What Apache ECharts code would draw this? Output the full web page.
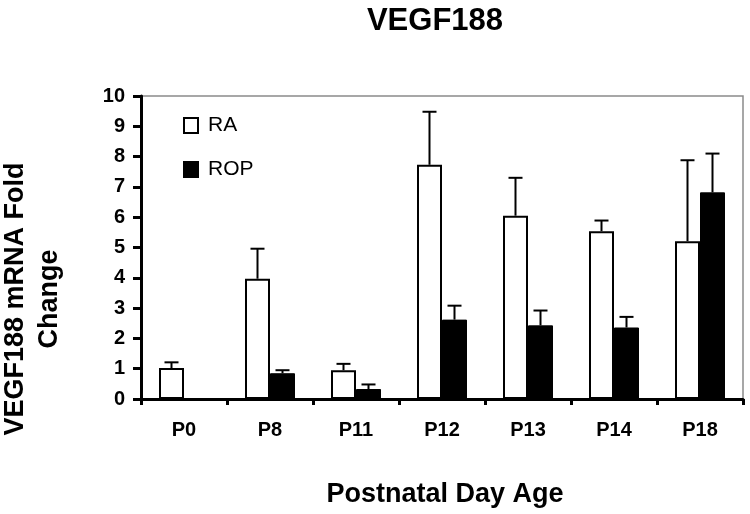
<!DOCTYPE html>
<html>
<head>
<meta charset="utf-8">
<script src="https://cdn.jsdelivr.net/npm/echarts@6/dist/echarts.min.js"></script>
<style>html,body{margin:0;padding:0;background:#fff}#c{width:750px;height:514px}</style>
</head>
<body>
<div id="c"></div>
<script>
var categories = ['P0', 'P8', 'P11', 'P12', 'P13', 'P14', 'P18'];
var raValues = [1.02, 3.97, 0.95, 7.73, 6.05, 5.54, 5.21];
var raErrors = [0.19, 0.99, 0.21, 1.75, 1.25, 0.35, 2.67];
var ropValues = [null, 0.85, 0.33, 2.62, 2.43, 2.36, 6.82];
var ropErrors = [null, 0.10, 0.15, 0.46, 0.49, 0.35, 1.28];
var yTicks = [0, 1, 2, 3, 4, 5, 6, 7, 8, 9, 10];

var FONT = 'Liberation Sans, Arial, sans-serif';
var BAR_W = 25;

function errSeries(vals, errs, offset) {
  var data = [];
  for (var i = 0; i < vals.length; i++) {
    if (vals[i] != null && errs[i] != null) data.push([i, vals[i], vals[i] + errs[i]]);
  }
  return {
    type: 'custom',
    z: 5,
    silent: true,
    data: data,
    encode: { x: 0, y: [1, 2] },
    renderItem: function (params, api) {
      var base = api.coord([api.value(0), api.value(1)]);
      var top = api.coord([api.value(0), api.value(2)]);
      var x = base[0] + offset;
      var half = 7;
      return {
        type: 'group',
        children: [
          { type: 'line', shape: { x1: x, y1: base[1], x2: x, y2: top[1] }, style: { stroke: '#000', lineWidth: 2 } },
          { type: 'line', shape: { x1: x - half, y1: top[1], x2: x + half, y2: top[1] }, style: { stroke: '#000', lineWidth: 2 } }
        ]
      };
    }
  };
}

var chart = echarts.init(document.getElementById('c'), null, { renderer: 'canvas' });
chart.setOption({
  backgroundColor: '#fff',
  animation: false,
  title: {
    text: 'VEGF188',
    left: 430, top: 1, textAlign: 'center',
    textStyle: { fontFamily: FONT, fontWeight: 'bold', fontSize: 31, color: '#000' }
  },
  legend: {
    orient: 'vertical',
    left: 183, top: 115, padding: 0,
    itemWidth: 14, itemHeight: 15, itemGap: 23,
    data: [{ name: 'RA', icon: 'rect' }, { name: 'ROP', icon: 'rect' }],
    textStyle: { fontFamily: FONT, fontSize: 21, color: '#000', padding: [0, 0, 0, 5] }
  },
  grid: {
    left: 141, right: 7, top: 96, bottom: 115,
    show: true, borderColor: '#8a8a8a', borderWidth: 1.5, backgroundColor: 'transparent'
  },
  xAxis: {
    type: 'category',
    data: categories,
    boundaryGap: true,
    axisLine: { lineStyle: { color: '#000', width: 3 } },
    axisTick: { show: true, length: 6, lineStyle: { color: '#000', width: 3 } },
    axisLabel: { margin: 21, fontFamily: FONT, fontWeight: 'bold', fontSize: 20, color: '#000' }
  },
  yAxis: {
    type: 'value',
    min: yTicks[0], max: yTicks[yTicks.length - 1], interval: 1,
    splitLine: { show: false },
    axisLine: { show: true, lineStyle: { color: '#000', width: 3 } },
    axisTick: { show: true, length: 8, lineStyle: { color: '#000', width: 3 } },
    axisLabel: { margin: 16, fontFamily: FONT, fontWeight: 'bold', fontSize: 20, color: '#000' }
  },
  graphic: [
    {
      type: 'text',
      style: { text: 'VEGF188 mRNA Fold', x: 0, y: 0, fill: '#000', font: 'bold 27px ' + FONT, textAlign: 'center', textVerticalAlign: 'middle' },
      x: 16, y: 299, rotation: Math.PI / 2
    },
    {
      type: 'text',
      style: { text: 'Change', x: 0, y: 0, fill: '#000', font: 'bold 27px ' + FONT, textAlign: 'center', textVerticalAlign: 'middle' },
      x: 50, y: 299, rotation: Math.PI / 2
    },
    {
      type: 'text',
      style: { text: 'Postnatal Day Age', x: 0, y: 0, fill: '#000', font: 'bold 27px ' + FONT, textAlign: 'center', textVerticalAlign: 'middle' },
      x: 445, y: 495
    }
  ],
  series: [
    {
      name: 'RA', type: 'bar', data: raValues, barWidth: BAR_W, barGap: '0%',
      itemStyle: { color: '#fff', borderColor: '#000', borderWidth: 2 }
    },
    {
      name: 'ROP', type: 'bar', data: ropValues, barWidth: BAR_W, barGap: '0%',
      itemStyle: { color: '#000', borderColor: '#000', borderWidth: 1 }
    },
    errSeries(raValues, raErrors, -BAR_W / 2),
    errSeries(ropValues, ropErrors, BAR_W / 2)
  ]
});
</script>
</body>
</html>
